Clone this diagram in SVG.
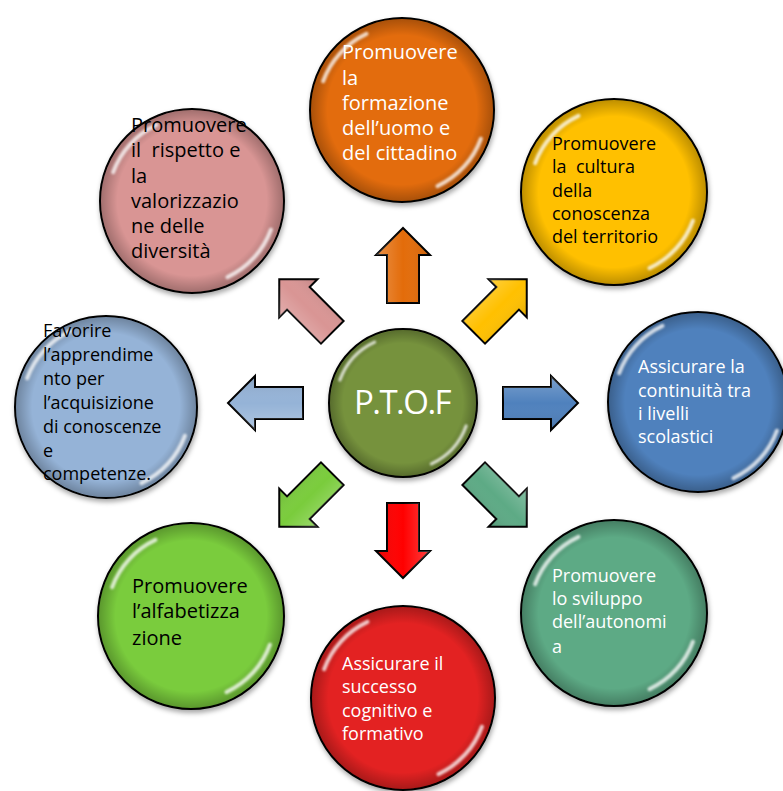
<svg xmlns="http://www.w3.org/2000/svg" xmlns:xlink="http://www.w3.org/1999/xlink" width="783" height="791" viewBox="0 0 783 791">
<style>
.c{stroke:#000;stroke-width:2}
.t{font-family:"Open Sans","Liberation Sans",sans-serif}
.w{fill:#fff}
.k{fill:#000}
.s20{font-size:20px}
.s18{font-size:18px}
.ar{stroke:#000;stroke-width:2;stroke-linejoin:miter}
.hl{fill:none;stroke:#fff;stroke-width:4;stroke-linecap:round;opacity:.75}
</style>
<defs>
<filter id="sh" x="-20%" y="-20%" width="140%" height="140%">
<feDropShadow dx="1" dy="3" stdDeviation="2.5" flood-color="#000" flood-opacity="0.35"/>
</filter>
<filter id="bl" x="-20%" y="-20%" width="140%" height="140%"><feGaussianBlur stdDeviation="1.2"/></filter>
<radialGradient id="edge" cx="50%" cy="50%" r="50%">
<stop offset="0.82" stop-color="#000" stop-opacity="0"/>
<stop offset="1" stop-color="#000" stop-opacity="0.25"/>
</radialGradient>
<linearGradient id="ag" x1="0" y1="0" x2="0" y2="1">
<stop offset="0" stop-color="#fff" stop-opacity="0.25"/>
<stop offset="0.5" stop-color="#fff" stop-opacity="0"/>
<stop offset="1" stop-color="#000" stop-opacity="0.12"/>
</linearGradient>
<g id="gloss">
<path class="hl" filter="url(#bl)" d="M-78.9,-28.7 A84,84 0 0 1 -35.5,-76.1"/>
<path class="hl" filter="url(#bl)" d="M78.9,28.7 A84,84 0 0 1 35.5,76.1"/>
</g>
<path id="arr" d="M100,-16 L148,-16 L148,-27 L175,0 L148,27 L148,16 L100,16 Z"/>
</defs>

<g id="connectors">
<g transform="translate(403,403) rotate(-90)"><use href="#arr" class="ar" fill="#E36C0A"/><use href="#arr" fill="url(#ag)"/></g>
<g transform="translate(403,403) rotate(-45)"><use href="#arr" class="ar" fill="#FFC000"/><use href="#arr" fill="url(#ag)"/></g>
<g transform="translate(403,403) rotate(0)"><use href="#arr" class="ar" fill="#4F81BD"/><use href="#arr" fill="url(#ag)"/></g>
<g transform="translate(403,403) rotate(45)"><use href="#arr" class="ar" fill="#5DAA85"/><use href="#arr" fill="url(#ag)"/></g>
<g transform="translate(403,403) rotate(90)"><use href="#arr" class="ar" fill="#FF0000"/><use href="#arr" fill="url(#ag)"/></g>
<g transform="translate(403,403) rotate(135)"><use href="#arr" class="ar" fill="#7ACC3C"/><use href="#arr" fill="url(#ag)"/></g>
<g transform="translate(403,403) rotate(180)"><use href="#arr" class="ar" fill="#95B3D7"/><use href="#arr" fill="url(#ag)"/></g>
<g transform="translate(403,403) rotate(-135)"><use href="#arr" class="ar" fill="#D99594"/><use href="#arr" fill="url(#ag)"/></g>
</g>

<g id="n-center">
<circle class="c" cx="403" cy="403" r="74" fill="#76923C" filter="url(#sh)"/>
<circle cx="403" cy="403" r="73" fill="url(#edge)"/>
<use href="#gloss" transform="translate(403,403) scale(0.8)"/>
<text class="t w" x="402" y="414" font-size="33" letter-spacing="-1.5" text-anchor="middle">P.T.O.F</text>
</g>

<g id="n-top">
<circle class="c" cx="402" cy="110" r="92" fill="#E36C0A" filter="url(#sh)"/>
<circle cx="402" cy="110" r="91" fill="url(#edge)"/>
<use href="#gloss" x="402" y="110"/>
<text class="t w s20"><tspan x="342" y="59">Promuovere</tspan><tspan x="342" y="85">la</tspan><tspan x="342" y="110">formazione</tspan><tspan x="342" y="135">dell’uomo e</tspan><tspan x="342" y="160">del cittadino</tspan></text>
</g>

<g id="n-topright">
<circle class="c" cx="614" cy="192" r="93" fill="#FFC000" filter="url(#sh)"/>
<circle cx="614" cy="192" r="92" fill="url(#edge)"/>
<use href="#gloss" x="614" y="192"/>
<text class="t k s18"><tspan x="552" y="150">Promuovere</tspan><tspan x="552" y="173" xml:space="preserve">la  cultura</tspan><tspan x="552" y="197">della</tspan><tspan x="552" y="220">conoscenza</tspan><tspan x="552" y="243">del territorio</tspan></text>
</g>

<g id="n-right">
<circle class="c" cx="698" cy="402" r="90" fill="#4F81BD" filter="url(#sh)"/>
<circle cx="698" cy="402" r="89" fill="url(#edge)"/>
<use href="#gloss" x="698" y="402"/>
<text class="t w s18"><tspan x="638" y="373">Assicurare la</tspan><tspan x="638" y="397">continuità tra</tspan><tspan x="638" y="420">i livelli</tspan><tspan x="638" y="443">scolastici</tspan></text>
</g>

<g id="n-bottomright">
<circle class="c" cx="614" cy="613" r="93" fill="#5DAA85" filter="url(#sh)"/>
<circle cx="614" cy="613" r="92" fill="url(#edge)"/>
<use href="#gloss" x="614" y="613"/>
<text class="t w s18"><tspan x="552" y="582">Promuovere</tspan><tspan x="552" y="605">lo sviluppo</tspan><tspan x="552" y="628">dell’autonomi</tspan><tspan x="552" y="653">a</tspan></text>
</g>

<g id="n-bottom">
<circle class="c" cx="403" cy="698" r="92" fill="#E32222" filter="url(#sh)"/>
<circle cx="403" cy="698" r="91" fill="url(#edge)"/>
<use href="#gloss" x="403" y="698"/>
<text class="t w s18"><tspan x="342" y="670">Assicurare il</tspan><tspan x="342" y="693">successo</tspan><tspan x="342" y="717">cognitivo e</tspan><tspan x="342" y="740">formativo</tspan></text>
</g>

<g id="n-bottomleft">
<circle class="c" cx="191" cy="616" r="93" fill="#7ACC3C" filter="url(#sh)"/>
<circle cx="191" cy="616" r="92" fill="url(#edge)"/>
<use href="#gloss" x="191" y="616"/>
<text class="t k s20"><tspan x="132" y="593">Promuovere</tspan><tspan x="132" y="618">l’alfabetizza</tspan><tspan x="132" y="645">zione</tspan></text>
</g>

<g id="n-left">
<circle class="c" cx="106" cy="407" r="91" fill="#95B3D7" filter="url(#sh)"/>
<circle cx="106" cy="407" r="90" fill="url(#edge)"/>
<use href="#gloss" x="106" y="407"/>
<text class="t k s18"><tspan x="43" y="337">Favorire</tspan><tspan x="43" y="361">l’apprendime</tspan><tspan x="43" y="385">nto per</tspan><tspan x="43" y="409">l’acquisizione</tspan><tspan x="43" y="433">di conoscenze</tspan><tspan x="43" y="457">e</tspan><tspan x="43" y="480">competenze.</tspan></text>
</g>

<g id="n-topleft">
<circle class="c" cx="192" cy="201" r="92" fill="#D99594" filter="url(#sh)"/>
<circle cx="192" cy="201" r="91" fill="url(#edge)"/>
<use href="#gloss" x="192" y="201"/>
<text class="t k s20"><tspan x="131" y="132">Promuovere</tspan><tspan x="131" y="157" xml:space="preserve">il  rispetto e</tspan><tspan x="131" y="183">la</tspan><tspan x="131" y="208">valorizzazio</tspan><tspan x="131" y="233">ne delle</tspan><tspan x="131" y="258">diversità</tspan></text>
</g>
</svg>
